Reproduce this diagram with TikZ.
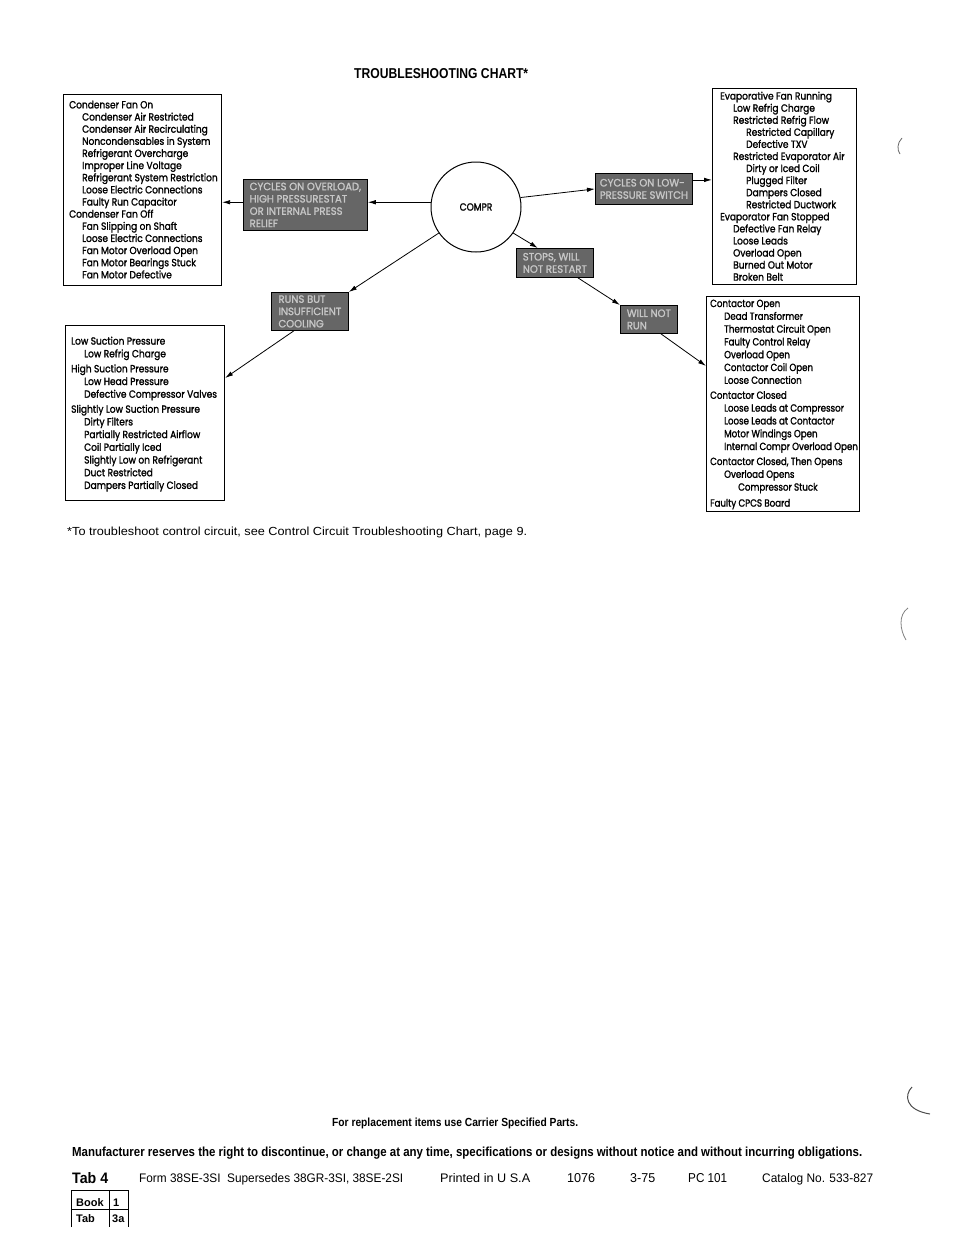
\documentclass[tikz,border=0pt]{standalone}
\usepackage{fontspec}
\usepackage{graphicx}
\usetikzlibrary{arrows.meta}
\setmainfont{Liberation Sans}
\newfontfamily\boxfont{Poppins}[FakeStretch=0.87,FakeBold=1.5]
\newfontfamily\boxfontn{Poppins}[FakeStretch=0.835,FakeBold=1.5]
\newfontfamily\capfont{Poppins}[FakeStretch=0.95,FakeBold=1.5]
\newcommand{\ind}{\hspace*{13pt}}
\newcommand{\indd}{\hspace*{26pt}}
\begin{document}
\begin{tikzpicture}[x=1pt,y=-1pt,
  every node/.style={inner sep=0pt},
  frame/.style={draw, line width=1.1pt, anchor=north west},
  list/.style={anchor=north west, align=left},
  tag/.style={draw, line width=0.8pt, fill=black!60, text=black!22, anchor=north west, align=left,
              font=\capfont\fontsize{10.6}{12.3}\selectfont},
  arr/.style={line width=0.8pt, -{Latex[length=8pt,width=4.5pt]}},
  foot/.style={anchor=base west},
]
\useasboundingbox (0,0) rectangle (954,1235);
\fill[white] (0,0) rectangle (954,1235);

% title
\node[foot] (title) at (354,78) {\resizebox{174pt}{10pt}{\bfseries TROUBLESHOOTING CHART*}};

% list frames
\node[frame, minimum width=158pt, minimum height=191pt] (b1) at (63,94) {};
\node[frame, minimum width=144pt, minimum height=196pt] (b2) at (712,88) {};
\node[frame, minimum width=153pt, minimum height=215pt] (b3) at (706,296) {};
\node[frame, minimum width=159pt, minimum height=175pt] (b4) at (65,325) {};

% list texts
\node[list, font=\boxfont\fontsize{10.4}{12.14}\selectfont] (b1t) at (69,100.5) {%
Condenser Fan On\\
\ind Condenser Air Restricted\\
\ind Condenser Air Recirculating\\
\ind Noncondensables in System\\
\ind Refrigerant Overcharge\\
\ind Improper Line Voltage\\
\ind Refrigerant System Restriction\\
\ind Loose Electric Connections\\
\ind Faulty Run Capacitor\\
Condenser Fan Off\\
\ind Fan Slipping on Shaft\\
\ind Loose Electric Connections\\
\ind Fan Motor Overload Open\\
\ind Fan Motor Bearings Stuck\\
\ind Fan Motor Defective};

\node[list, font=\boxfont\fontsize{10.4}{12.07}\selectfont] (b2t) at (720,91.5) {%
Evaporative Fan Running\\
\ind Low Refrig Charge\\
\ind Restricted Refrig Flow\\
\indd Restricted Capillary\\
\indd Defective TXV\\
\ind Restricted Evaporator Air\\
\indd Dirty or Iced Coil\\
\indd Plugged Filter\\
\indd Dampers Closed\\
\indd Restricted Ductwork\\
Evaporator Fan Stopped\\
\ind Defective Fan Relay\\
\ind Loose Leads\\
\ind Overload Open\\
\ind Burned Out Motor\\
\ind Broken Belt};

\node[list, font=\boxfontn\fontsize{10.4}{12.8}\selectfont] (b3t) at (710,299.5) {%
Contactor Open\\
\hspace*{14pt}Dead Transformer\\
\hspace*{14pt}Thermostat Circuit Open\\
\hspace*{14pt}Faulty Control Relay\\
\hspace*{14pt}Overload Open\\
\hspace*{14pt}Contactor Coil Open\\
\hspace*{14pt}Loose Connection\\[2.2pt]
Contactor Closed\\
\hspace*{14pt}Loose Leads at Compressor\\
\hspace*{14pt}Loose Leads at Contactor\\
\hspace*{14pt}Motor Windings Open\\
\hspace*{14pt}Internal Compr Overload Open\\[2.2pt]
Contactor Closed, Then Opens\\
\hspace*{14pt}Overload Opens\\
\hspace*{28pt}Compressor Stuck\\[3.2pt]
Faulty CPCS Board};

\node[list, font=\boxfont\fontsize{10.4}{12.7}\selectfont] (b4t) at (71,336.5) {%
Low Suction Pressure\\
\ind Low Refrig Charge\\[2.3pt]
High Suction Pressure\\
\ind Low Head Pressure\\
\ind Defective Compressor Valves\\[2.3pt]
Slightly Low Suction Pressure\\
\ind Dirty Filters\\
\ind Partially Restricted Airflow\\
\ind Coil Partially Iced\\
\ind Slightly Low on Refrigerant\\
\ind Duct Restricted\\
\ind Dampers Partially Closed};

% compressor
\node[draw, circle, line width=1pt, minimum size=90pt,
      font=\boxfont\fontsize{10.4}{12}\selectfont] (compr) at (476,207) {COMPR};

% grey symptom tags
\node[tag, minimum width=124pt, minimum height=51pt] (g1) at (243,179) {CYCLES ON OVERLOAD,\\HIGH PRESSURESTAT\\OR INTERNAL PRESS\\RELIEF};
\node[tag, minimum width=97pt, minimum height=31pt] (g2) at (595,173) {CYCLES ON LOW-\\PRESSURE SWITCH};
\node[tag, minimum width=77pt, minimum height=29pt] (g3) at (516,248) {STOPS, WILL\\NOT RESTART};
\node[tag, minimum width=57pt, minimum height=28pt] (g4) at (620,305) {WILL NOT\\RUN};
\node[tag, minimum width=77pt, minimum height=38pt] (g5) at (271,292) {RUNS BUT\\INSUFFICIENT\\COOLING};

% connectors
\draw[arr] (compr.174) -- (g1.east |- compr.174);
\draw[arr] (g1.west |- compr.174) -- (b1.east |- compr.174);
\draw[arr] (compr.12) -- (g2.west);
\draw[arr] ([yshift=9pt]g2.east) -- ([yshift=9pt]g2.east -| b2.west);
\draw[arr] (compr.-35) -- ([xshift=-17pt]g3.north);
\draw[arr] ([xshift=23pt]g3.south) -- (g4.north west);
\draw[arr] ([xshift=12pt]g4.south) -- ([yshift=-70pt]b3.north west);
\draw[arr] (compr.215) -- (g5.north east);
\draw[arr] ([xshift=-16pt]g5.south) -- ([yshift=-53pt]b4.north east);

% footnote
\node[foot] (note) at (67,535) {\resizebox{460pt}{8.5pt}{*To troubleshoot control circuit, see Control Circuit Troubleshooting Chart, page 9.}};

% footer
\node[foot] (repl) at (332,1126) {\resizebox{246pt}{8.5pt}{\bfseries For replacement items use Carrier Specified Parts.}};
\node[foot] (mfr) at (72,1156) {\resizebox{790pt}{9.5pt}{\bfseries Manufacturer reserves the right to discontinue, or change at any time, specifications or designs without notice and without incurring obligations.}};
\node[foot] (tab) at (72,1183) {\resizebox{36pt}{11pt}{\bfseries Tab 4}};
\node[foot] (form) at (139,1182) {\resizebox{264pt}{9pt}{Form 38SE-3SI\ \ Supersedes 38GR-3SI, 38SE-2SI}};
\node[foot] (printed) at (440,1182) {\resizebox{90pt}{9pt}{Printed in U S.A}};
\node[foot] (num) at (567,1182) {\resizebox{28pt}{9pt}{1076}};
\node[foot] (date) at (630,1182) {\resizebox{25pt}{9pt}{3-75}};
\node[foot] (pc) at (688,1182) {\resizebox{39pt}{9pt}{PC 101}};
\node[foot] (cat) at (762,1182) {\resizebox{111pt}{9pt}{Catalog No. 533-827}};

% book / tab table
\draw[line width=1pt] (71,1227) -- (71,1190) -- (128,1190) -- (128,1227)
      (71,1209) -- (128,1209) (109,1190) -- (109,1227);
\node[foot, font=\bfseries\fontsize{11}{12}\selectfont] (book) at (76,1206) {Book};
\node[foot, font=\bfseries\fontsize{11}{12}\selectfont] (bk1) at (113,1206) {1};
\node[foot, font=\bfseries\fontsize{11}{12}\selectfont] (tb) at (76,1222) {Tab};
\node[foot, font=\bfseries\fontsize{11}{12}\selectfont] (tb3) at (112,1222) {3a};

% scan marks at right margin
\draw[black!60, line width=0.8pt] (902,138) .. controls (897,143) and (897,150) .. (900,154);
\draw[black!50, line width=0.8pt] (908,608) .. controls (898,615) and (900,630) .. (906,640);
\draw[black!70, line width=1pt] (912,1087) .. controls (904,1095) and (905,1110) .. (930,1114);
\end{tikzpicture}
\end{document}
